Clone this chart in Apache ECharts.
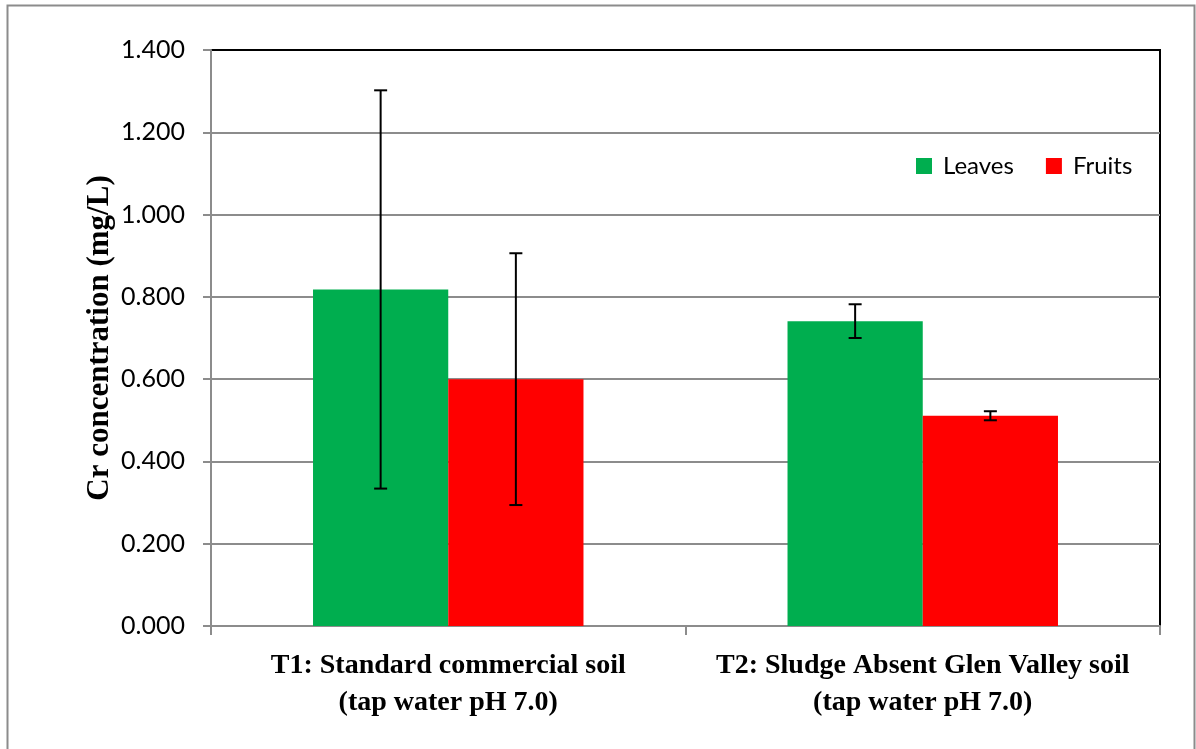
<!DOCTYPE html>
<html>
<head>
<meta charset="utf-8">
<script src="https://cdn.jsdelivr.net/npm/echarts@6/dist/echarts.min.js"></script>
<style>
  html, body { margin: 0; padding: 0; background: #fff; }
  #chart { width: 1196px; height: 749px; }
</style>
</head>
<body>
<div id="chart"></div>
<script>
// Chromium concentration in tomato plants grown in two soils
const categories = [
  'T1: Standard commercial soil\n(tap water pH 7.0)',
  'T2: Sludge Absent Glen Valley soil\n(tap water pH 7.0)'
];
const seriesNames = ['Leaves', 'Fruits'];
const leaves = [0.818, 0.741];
const fruits = [0.600, 0.511];
// standard deviations (± error bars)
const leavesErr = [0.484, 0.041];
const fruitsErr = [0.306, 0.011];
const yTicks = { min: 0, max: 1.4, interval: 0.2 };

const colors = ['#00AE4F', '#FF0000'];
const barCategoryGap = 0.43;

function errorSeries(values, errs, idx) {
  return {
    type: 'custom',
    name: seriesNames[idx] + ' error',
    z: 10,
    silent: true,
    data: values.map((v, i) => [i, v - errs[i], v + errs[i]]),
    renderItem: function (params, api) {
      const cat = api.value(0);
      const lo = api.coord([cat, api.value(1)]);
      const hi = api.coord([cat, api.value(2)]);
      const bandW = api.size([1, 0])[0];
      const barW = bandW * (1 - barCategoryGap) / 2;
      const x = lo[0] + (idx === 0 ? -barW / 2 : barW / 2);
      const cap = 6.5;
      const style = { stroke: '#000', lineWidth: 2, fill: null };
      return {
        type: 'group',
        children: [
          { type: 'line', shape: { x1: x, y1: hi[1], x2: x, y2: lo[1] }, style: style },
          { type: 'line', shape: { x1: x - cap, y1: hi[1], x2: x + cap, y2: hi[1] }, style: style },
          { type: 'line', shape: { x1: x - cap, y1: lo[1], x2: x + cap, y2: lo[1] }, style: style }
        ]
      };
    }
  };
}

const chart = echarts.init(document.getElementById('chart'), null, { renderer: 'canvas' });
chart.setOption({
  animation: false,
  backgroundColor: '#fff',
  graphic: [{
    type: 'rect',
    shape: { x: 7.5, y: 5.5, width: 1187, height: 760 },
    style: { fill: 'none', stroke: '#8c8c8c', lineWidth: 2 },
    z: -1
  }],
  legend: {
    left: 911, top: 149,
    data: seriesNames,
    icon: 'rect',
    itemWidth: 16, itemHeight: 16,
    itemGap: 32,
    textStyle: { fontFamily: 'Lato', fontSize: 24, color: '#000', padding: [0, 0, 0, 6] }
  },
  grid: {
    left: 211, right: 36, top: 50, bottom: 123,
    show: true, borderColor: '#000', borderWidth: 2, backgroundColor: 'transparent'
  },
  xAxis: {
    type: 'category',
    data: categories,
    axisLine: { lineStyle: { color: '#8c8c8c', width: 2 } },
    axisTick: { show: true, length: 9, lineStyle: { color: '#8c8c8c', width: 2 } },
    axisLabel: {
      fontFamily: 'Liberation Serif', fontWeight: 'bold', fontSize: 28,
      color: '#000', lineHeight: 37, margin: 21, interval: 0
    }
  },
  yAxis: {
    type: 'value',
    min: yTicks.min, max: yTicks.max, interval: yTicks.interval,
    name: 'Cr concentration (mg/L)',
    nameLocation: 'middle',
    nameGap: 96,
    nameMoveOverlap: false,
    nameTextStyle: { fontFamily: 'Liberation Serif', fontWeight: 'bold', fontSize: 31, color: '#000' },
    axisLine: { show: true, lineStyle: { color: '#8c8c8c', width: 2 } },
    axisTick: { show: true, length: 8, lineStyle: { color: '#8c8c8c', width: 2 } },
    splitLine: { show: true, showMaxLine: false, lineStyle: { color: '#8c8c8c', width: 2 } },
    axisLabel: {
      fontFamily: 'Lato', fontSize: 25, color: '#000', margin: 26,
      formatter: v => v.toFixed(3)
    }
  },
  series: [
    {
      type: 'bar', name: seriesNames[0], data: leaves,
      itemStyle: { color: colors[0] },
      barGap: '0%', barCategoryGap: (barCategoryGap * 100) + '%'
    },
    {
      type: 'bar', name: seriesNames[1], data: fruits,
      itemStyle: { color: colors[1] },
      barGap: '0%', barCategoryGap: (barCategoryGap * 100) + '%'
    },
    errorSeries(leaves, leavesErr, 0),
    errorSeries(fruits, fruitsErr, 1)
  ]
});
</script>
</body>
</html>
